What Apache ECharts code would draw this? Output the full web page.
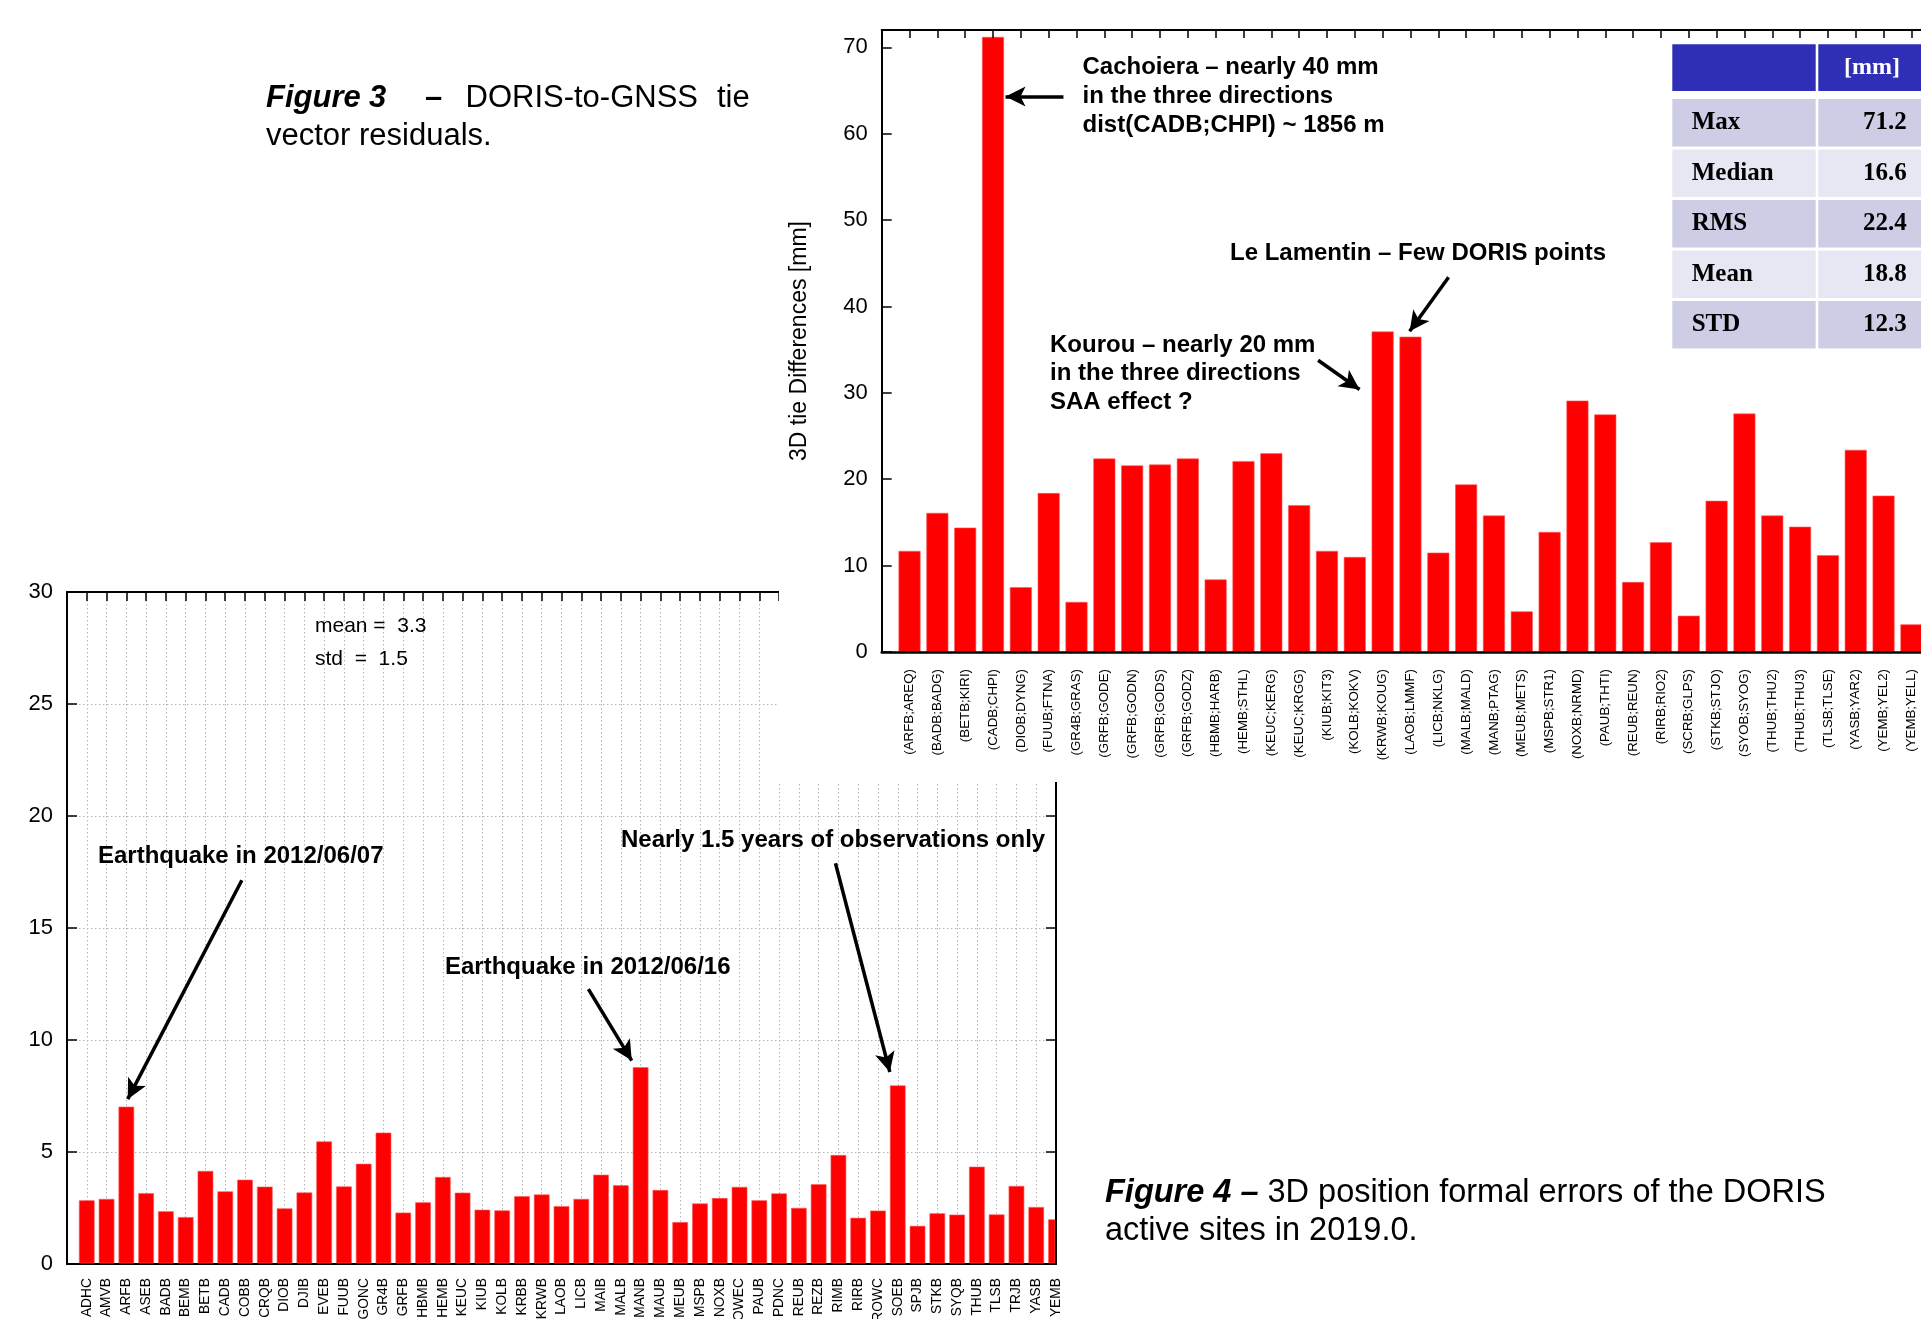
<!DOCTYPE html>
<html>
<head>
<meta charset="utf-8">
<script src="https://cdn.jsdelivr.net/npm/echarts@6/dist/echarts.min.js"></script>
<style>
html, body { margin:0; padding:0; width:1921px; height:1319px; overflow:hidden; background:#fff; }
#bottom { position:absolute; left:0; top:0; width:1921px; height:1319px; }
#top { position:absolute; left:779px; top:0; width:1300px; height:782px; background:#fff; z-index:2; }
</style>
</head>
<body>
<div id="bottom"></div>
<div id="top"></div>
<script>
// ---------- Figure 3 (top chart): DORIS-to-GNSS tie vector residuals ----------
const catsTop = ['(ARFB;AREQ)','(BADB;BADG)','(BETB;KIRI)','(CADB;CHPI)','(DIOB;DYNG)','(FUUB;FTNA)','(GR4B;GRAS)','(GRFB;GODE)','(GRFB;GODN)','(GRFB;GODS)','(GRFB;GODZ)','(HBMB;HARB)','(HEMB;STHL)','(KEUC;KERG)','(KEUC;KRGG)','(KIUB;KIT3)','(KOLB;KOKV)','(KRWB;KOUG)','(LAOB;LMMF)','(LICB;NKLG)','(MALB;MALD)','(MANB;PTAG)','(MEUB;METS)','(MSPB;STR1)','(NOXB;NRMD)','(PAUB;THTI)','(REUB;REUN)','(RIRB;RIO2)','(SCRB;GLPS)','(STKB;STJO)','(SYOB;SYOG)','(THUB;THU2)','(THUB;THU3)','(TLSB;TLSE)','(YASB;YAR2)','(YEMB;YEL2)','(YEMB;YELL)'];
const valsTop = [11.7,16.1,14.4,71.2,7.5,18.4,5.8,22.4,21.6,21.7,22.4,8.4,22.1,23.0,17.0,11.7,11.0,37.1,36.5,11.5,19.4,15.8,4.7,13.9,29.1,27.5,8.1,12.7,4.2,17.5,27.6,15.8,14.5,11.2,23.4,18.1,3.2];
const yTicksTop = [0,10,20,30,40,50,60,70];
const statLabels = ['Max','Median','RMS','Mean','STD'];
const statValues = ['71.2','16.6','22.4','18.8','12.3'];
const statUnit = '[mm]';

// ---------- Figure 4 (bottom chart): 3D position formal errors ----------
const catsBot = ['ADHC','AMVB','ARFB','ASEB','BADB','BEMB','BETB','CADB','COBB','CRQB','DIOB','DJIB','EVEB','FUUB','GONC','GR4B','GRFB','HBMB','HEMB','KEUC','KIUB','KOLB','KRBB','KRWB','LAOB','LICB','MAIB','MALB','MANB','MAUB','MEUB','MSPB','NOXB','OWEC','PAUB','PDNC','REUB','REZB','RIMB','RIRB','ROWC','SOEB','SPJB','STKB','SYQB','THUB','TLSB','TRJB','YASB','YEMB'];
const valsBot = [2.83,2.89,7.01,3.15,2.34,2.08,4.14,3.23,3.75,3.44,2.47,3.18,5.46,3.45,4.46,5.85,2.28,2.74,3.87,3.17,2.41,2.38,3.01,3.09,2.57,2.89,3.97,3.50,8.77,3.29,1.86,2.69,2.93,3.43,2.83,3.14,2.49,3.55,4.85,2.05,2.37,7.96,1.69,2.25,2.19,4.33,2.20,3.47,2.53,1.98];
const yTicksBot = [0,5,10,15,20,25,30];

const SANS = '"Liberation Sans", Arial, Helvetica, sans-serif';
const SERIF = '"Liberation Serif", "Times New Roman", serif';
const BLACK = '#000';

function txt(x, y, text, font, extra) {
  return Object.assign({
    type: 'text', x: x, y: y, z: 100,
    style: { text: text, font: font, fill: BLACK, textAlign: 'left', align: 'left', textVerticalAlign: 'middle', verticalAlign: 'middle' }
  }, extra || {});
}
function arrowLine(a, b) { return [{ coord: a }, { coord: b }]; }
const arrowStyle = {
  silent: true, animation: false, symbol: ['none', 'arrow'], symbolSize: [15, 20],
  label: { show: false }, emphasis: { disabled: true },
  lineStyle: { color: BLACK, width: 3.5, type: 'solid' }, itemStyle: { color: BLACK }
};

// ================= bottom chart =================
const chartB = echarts.init(document.getElementById('bottom'), null, { renderer: 'canvas' });
const axisLineB = { show: true, onZero: false, lineStyle: { color: BLACK, width: 2 } };
const dotted = { show: true, lineStyle: { color: '#b4b4b4', width: 1, type: [1.5, 2.5] } };

// bars clipped to the plot frame (the last bar sits on the right border)
function renderClippedBar(params, api) {
  const x = api.value(0), v = api.value(1);
  const top = api.coord([x, v]);
  const base = api.coord([x, 0]);
  const w = api.size([1, 0])[0] * 0.76;
  const cs = params.coordSys;
  const shape = echarts.graphic.clipRectByRect(
    { x: top[0] - w / 2, y: top[1], width: w, height: base[1] - top[1] - 1 },
    { x: cs.x, y: cs.y, width: cs.width - 1, height: cs.height }
  );
  return shape && { type: 'rect', shape: shape,
    style: { fill: '#ff0000', stroke: '#ff5a5a', lineWidth: 0.6 } };
}

chartB.setOption({
  animation: false,
  grid: { left: 67, top: 592, width: 989, height: 672, outerBoundsMode: 'none', containLabel: false },
  xAxis: [
    { type: 'value', min: -1, max: catsBot.length - 1, interval: 1, position: 'bottom',
      axisLine: axisLineB, axisTick: { show: false },
      axisLabel: { rotate: 90, fontSize: 13.8, fontFamily: SANS, color: BLACK, margin: 14,
        formatter: v => (catsBot[v] !== undefined ? catsBot[v] : '') },
      splitLine: dotted },
    { type: 'value', min: -1, max: catsBot.length - 1, interval: 1, position: 'top', z: 5,
      axisLine: axisLineB, axisTick: { show: true, inside: true, length: 9, lineStyle: { color: BLACK, width: 1.5 } },
      axisLabel: { show: false }, splitLine: { show: false } }
  ],
  yAxis: [
    { type: 'value', min: yTicksBot[0], max: yTicksBot[yTicksBot.length - 1], interval: yTicksBot[1] - yTicksBot[0], position: 'left',
      axisLine: axisLineB, axisTick: { show: true, inside: true, length: 10, lineStyle: { color: BLACK, width: 1.5 } },
      axisLabel: { fontSize: 22, fontFamily: SANS, color: BLACK, margin: 14 },
      splitLine: dotted },
    { type: 'value', min: yTicksBot[0], max: yTicksBot[yTicksBot.length - 1], interval: yTicksBot[1] - yTicksBot[0], position: 'right', z: 5,
      axisLine: axisLineB, axisTick: { show: true, inside: true, length: 10, lineStyle: { color: BLACK, width: 1.5 } },
      axisLabel: { show: false }, splitLine: { show: false } }
  ],
  series: [{
    type: 'custom', xAxisIndex: 0, yAxisIndex: 0, renderItem: renderClippedBar,
    encode: { x: 0, y: 1 },
    data: catsBot.map((c, i) => [i, valsBot[i]]),
    markLine: Object.assign({}, arrowStyle, {
      data: [
        arrowLine([7.84, 17.13], [2.07, 7.36]),
        arrowLine([25.36, 12.27], [27.55, 9.08]),
        arrowLine([37.85, 17.89], [40.6, 8.57])
      ]
    })
  }],
  graphic: [
    txt(315, 626, 'mean =  3.3', '21px ' + SANS),
    txt(315, 659, 'std  =  1.5', '21px ' + SANS),
    txt(98, 856, 'Earthquake in 2012/06/07', 'bold 24px ' + SANS),
    txt(445, 967, 'Earthquake in 2012/06/16', 'bold 24px ' + SANS),
    txt(621, 840, 'Nearly 1.5 years of observations only', 'bold 24px ' + SANS),
    // Figure 3 caption (justified line)
    txt(266, 98, 'Figure', 'italic bold 31px ' + SANS),
    txt(369, 98, '3', 'italic bold 31px ' + SANS),
    txt(425, 98, '–', 'bold 31px ' + SANS),
    txt(465.5, 98, 'DORIS-to-GNSS', '31px ' + SANS),
    txt(717, 98, 'tie', '31px ' + SANS),
    txt(266, 136, 'vector residuals.', '31px ' + SANS),
    // Figure 4 caption
    { type: 'text', x: 1105, y: 1193, z: 100,
      style: { text: '{b|Figure 4 –} 3D position formal errors of the DORIS', font: '32.5px ' + SANS, fill: BLACK,
        textVerticalAlign: 'middle', verticalAlign: 'middle',
        rich: { b: { font: 'italic bold 32.5px ' + SANS, fill: BLACK } } } },
    txt(1105, 1231, 'active sites in 2019.0.', '32.5px ' + SANS)
  ]
});

// ================= top chart =================
const chartT = echarts.init(document.getElementById('top'), null, { renderer: 'canvas' });
const unitW = 27.83;
const xMaxTop = catsTop.length + 1;
const axisLineT = { show: true, onZero: false, lineStyle: { color: BLACK, width: 2 } };
const tableX = 893.3, col1W = 143.4, col2X = 1039.3, col2W = 200;
const headerY = 44.3, headerH = 46.7, rowY0 = 99, rowStep = 50.5, rowH = 47.5;
const tableGraphics = [
  { type: 'rect', z: 50, shape: { x: tableX, y: headerY, width: col1W, height: headerH }, style: { fill: '#2e2eb6' } },
  { type: 'rect', z: 50, shape: { x: col2X, y: headerY, width: col2W, height: headerH }, style: { fill: '#2e2eb6' } },
  { type: 'text', z: 60, x: 1093, y: 67.7, style: { text: statUnit, font: 'bold 24px ' + SERIF, fill: '#fff',
      textAlign: 'center', align: 'center', textVerticalAlign: 'middle', verticalAlign: 'middle' } }
];
statLabels.forEach((lab, i) => {
  const y = rowY0 + i * rowStep;
  const fill = (i % 2 === 0) ? '#cdcde6' : '#e7e7f3';
  tableGraphics.push(
    { type: 'rect', z: 50, shape: { x: tableX, y: y, width: col1W, height: rowH }, style: { fill: fill } },
    { type: 'rect', z: 50, shape: { x: col2X, y: y, width: col2W, height: rowH }, style: { fill: fill } },
    { type: 'text', z: 60, x: 912.7, y: y + rowH / 2, style: { text: lab, font: 'bold 25px ' + SERIF, fill: BLACK,
        textAlign: 'left', align: 'left', textVerticalAlign: 'middle', verticalAlign: 'middle' } },
    { type: 'text', z: 60, x: 1127.7, y: y + rowH / 2, style: { text: statValues[i], font: 'bold 25px ' + SERIF, fill: BLACK,
        textAlign: 'right', align: 'right', textVerticalAlign: 'middle', verticalAlign: 'middle' } }
  );
});

chartT.setOption({
  animation: false,
  grid: { left: 102.7, top: 30, width: unitW * (xMaxTop + 1), height: 622, outerBoundsMode: 'none', containLabel: false },
  xAxis: [
    { type: 'value', min: -1, max: xMaxTop, interval: 1, position: 'bottom', z: 5,
      axisLine: { show: true, onZero: false, lineStyle: { color: BLACK, width: 2.5 } }, axisTick: { show: false },
      axisLabel: { rotate: 90, fontSize: 13.3, fontFamily: SANS, color: BLACK, margin: 17,
        formatter: v => (catsTop[v] !== undefined ? catsTop[v] : '') },
      splitLine: { show: false } },
    { type: 'value', min: -1, max: xMaxTop, interval: 1, position: 'top', z: 5,
      axisLine: axisLineT, axisTick: { show: true, inside: true, length: 8, lineStyle: { color: BLACK, width: 1.5 } },
      axisLabel: { show: false }, splitLine: { show: false } }
  ],
  yAxis: [
    { type: 'value', min: 0, max: 72, interval: yTicksTop[1] - yTicksTop[0], position: 'left', z: 5,
      name: '3D tie Differences [mm]', nameLocation: 'middle', nameGap: 71,
      nameTextStyle: { fontSize: 23, fontFamily: SANS, color: BLACK },
      axisLine: axisLineT, axisTick: { show: true, inside: true, length: 10, lineStyle: { color: BLACK, width: 1.5 } },
      axisLabel: { fontSize: 22, fontFamily: SANS, color: BLACK, margin: 14, showMaxLabel: false,
        formatter: v => (yTicksTop.indexOf(v) >= 0 ? String(v) : '') },
      splitLine: { show: false } }
  ],
  series: [{
    type: 'bar', xAxisIndex: 0, yAxisIndex: 0, barWidth: 22,
    itemStyle: { color: '#ff0000', borderColor: '#ff5a5a', borderWidth: 0.6 },
    data: catsTop.map((c, i) => [i, valsTop[i]]),
    markLine: Object.assign({}, arrowStyle, {
      data: [
        arrowLine([5.53, 64.3], [3.45, 64.3]),
        arrowLine([19.37, 43.37], [17.97, 37.13]),
        arrowLine([14.68, 33.77], [16.17, 30.38])
      ]
    })
  }],
  graphic: tableGraphics.concat([
    txt(303.5, 67.7, 'Cachoiera – nearly 40 mm', 'bold 24px ' + SANS),
    txt(303.5, 96, 'in the three directions', 'bold 24px ' + SANS),
    txt(303.5, 125, 'dist(CADB;CHPI) ~ 1856 m', 'bold 24px ' + SANS),
    txt(451, 253.6, 'Le Lamentin – Few DORIS points', 'bold 24px ' + SANS),
    txt(271, 345, 'Kourou – nearly 20 mm', 'bold 24px ' + SANS),
    txt(271, 373.7, 'in the three directions', 'bold 24px ' + SANS),
    txt(271, 402.7, 'SAA effect ?', 'bold 24px ' + SANS)
  ])
});
</script>
</body>
</html>
